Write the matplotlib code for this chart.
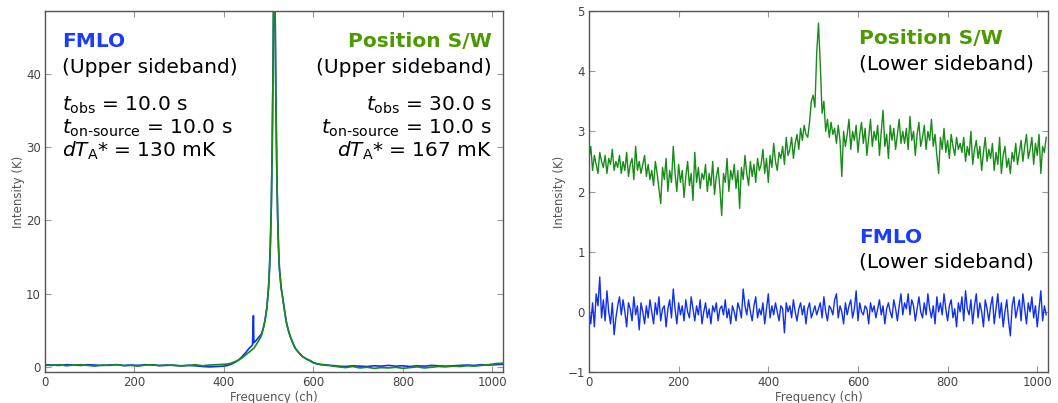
import matplotlib
matplotlib.use("Agg")
import matplotlib.pyplot as plt
import numpy as np

W, H = 1058, 403
BLUE_LINE = "#1030f0"
GREEN_LINE = "#178c17"
BLUE_TXT = "#1a3cff"
GREEN_TXT = "#4c9a00"

# ---- upper sideband (left panel), channel -> intensity (K) ----
UP_CH = [0, 16, 32, 48, 64, 80, 96, 112, 128, 144, 160, 176, 192, 208, 224, 240,
         256, 272, 288, 304, 320, 336, 352, 368, 384,
         400, 408, 416, 424, 432, 440, 448, 456, 464, 466, 467, 472, 480, 484, 488,
         492, 496, 500, 502, 504, 506, 508, 510, 512, 514, 516, 518, 520, 522, 524,
         528, 532, 536, 540, 544, 548, 552, 556, 560, 568, 576, 584, 592, 600, 608,
         616, 624, 632,
         640, 656, 672, 688, 704, 720, 736, 752, 768, 784, 800, 816, 832, 848, 864,
         880, 896, 912, 928, 944, 960, 976, 992, 1008, 1023]
UP_GREEN = [0.25, 0.2, 0.3, 0.15, 0.25, 0.3, 0.2, 0.1, 0.25, 0.2, 0.3, 0.15, 0.2, 0.1, 0.25, 0.3,
            0.15, 0.2, 0.25, 0.1, 0.2, 0.3, 0.15, 0.25, 0.3,
            0.35, 0.4, 0.5, 0.7, 0.9, 1.2, 1.6, 2.0, 2.4, 2.5, 2.55, 3.0, 3.8, 4.3, 5.2,
            6.3, 8.0, 11.0, 13.5, 17.0, 22.0, 30.0, 42.0, 58.0, 52.0, 38.0, 28.0, 21.0, 16.5, 13.5,
            10.8, 9.2, 7.5, 6.0, 5.0, 4.2, 3.6, 3.0, 2.5, 1.9, 1.4, 1.1, 0.9, 0.6, 0.45,
            0.35, 0.3, 0.25,
            0.15, 0.0, -0.1, 0.05, -0.15, -0.05, -0.2, -0.1, -0.15, -0.05, -0.2, -0.1, 0.0, -0.15, -0.05,
            0.05, 0.0, 0.1, 0.05, 0.15, 0.1, 0.2, 0.3, 0.45, 0.5]
UP_BLUE = [0.3, 0.25, 0.2, 0.3, 0.25, 0.2, 0.3, 0.25, 0.2, 0.25, 0.3, 0.2, 0.25, 0.2, 0.3, 0.25,
           0.2, 0.25, 0.2, 0.15, 0.2, 0.15, 0.05, 0.0, 0.05,
           0.1, 0.2, 0.35, 0.6, 0.9, 1.35, 1.9, 2.5, 3.0, 7.0, 3.3, 3.6, 4.2, 4.5, 5.3,
           6.4, 8.1, 11.0, 13.5, 17.0, 22.0, 30.0, 42.0, 57.0, 52.0, 38.0, 28.0, 21.0, 16.5, 13.5,
           10.8, 9.2, 7.5, 6.0, 5.0, 4.2, 3.6, 3.0, 2.5, 1.9, 1.4, 1.1, 0.85, 0.55, 0.4,
           0.3, 0.25, 0.2,
           0.2, 0.1, 0.05, 0.15, 0.1, 0.05, 0.15, 0.1, 0.2, 0.1, 0.15, 0.05, 0.15, 0.1, 0.2,
           0.15, 0.1, 0.15, 0.2, 0.25, 0.2, 0.3, 0.25, 0.3, 0.35]

# ---- lower sideband (right panel), every 4th channel ----
LOW_CH = np.arange(0, 1024, 4)
LOW_GREEN = [
    2.55, 2.75, 2.35, 2.6, 2.45, 2.3, 2.65, 2.5, 2.4, 2.6, 2.3, 2.55, 2.45, 2.7, 2.35, 2.5,
    2.4, 2.6, 2.3, 2.5, 2.35, 2.65, 2.25, 2.45, 2.55, 2.2, 2.75, 2.35, 2.5, 2.3, 2.45, 2.6,
    2.25, 2.45, 2.2, 2.35, 2.1, 2.5, 2.3, 2.05, 1.8, 2.4, 2.2, 2.55, 2.0, 2.35, 2.15, 2.75,
    2.3, 2.0, 2.45, 2.15, 2.35, 1.9, 2.25, 2.5, 2.1, 2.3, 1.85, 2.65, 2.15, 2.4, 2.05, 2.3,
    2.2, 2.45, 2.0, 2.3, 2.1, 2.5, 1.95, 2.25, 2.4, 2.05, 1.6, 2.3, 2.15, 2.55, 2.0, 2.35,
    2.2, 2.45, 2.05, 2.35, 1.72, 2.4, 2.2, 2.6, 2.3, 2.1, 2.5, 2.25, 2.45, 2.15, 2.55, 2.35,
    2.45, 2.7, 2.3, 2.55, 2.15, 2.6, 2.4, 2.8, 2.5, 2.35, 2.65, 2.55, 2.75, 2.45, 2.9, 2.6,
    2.7, 2.9, 2.55, 2.8, 2.95, 2.7, 3.05, 2.85, 3.1, 2.95, 2.9, 3.15, 3.5, 3.6, 3.4, 4.3,
    4.8, 4.1, 3.3, 3.5, 3.0, 3.2, 2.9, 3.15, 2.95, 3.05, 2.8, 3.1, 2.85, 2.25, 3.0, 2.75,
    2.95, 3.2, 2.7, 3.0, 2.85, 3.1, 2.65, 2.95, 3.15, 2.8, 3.05, 2.6, 2.9, 3.2, 2.75, 3.0,
    2.85, 3.1, 2.6, 3.0, 3.35, 2.75, 2.95, 2.55, 3.1, 2.85, 3.05, 2.7, 2.95, 3.2, 2.8, 3.0,
    2.8, 3.05, 2.7, 3.25, 2.85, 3.0, 2.6, 2.95, 3.15, 2.75, 2.9, 3.1, 2.7, 3.0, 2.85, 3.2,
    2.75, 2.95, 2.6, 2.3, 2.9, 2.7, 3.05, 2.65, 2.85, 2.55, 2.95, 2.75, 2.6, 2.9, 2.7, 2.8,
    2.65, 2.9, 2.5, 2.75, 2.6, 3.0, 2.45, 2.7, 2.85, 2.55, 2.75, 2.35, 2.65, 2.9, 2.5, 2.7,
    2.55, 2.8, 2.35, 2.65, 2.45, 2.9, 2.3, 2.6, 2.75, 2.4, 2.55, 2.3, 2.65, 2.5, 2.8, 2.45,
    2.65, 2.85, 2.5, 2.75, 2.95, 2.55, 2.7, 2.9, 2.45, 2.8, 2.6, 2.95, 2.3, 2.75, 2.65, 2.9]
LOW_BLUE = [
    0.05, -0.2, 0.15, -0.25, 0.3, 0.1, 0.58, -0.1, 0.2, -0.15, 0.35, 0.0, -0.2, 0.15, -0.38, -0.1,
    0.1, 0.25, -0.05, 0.2, 0.0, -0.25, 0.15, 0.05, -0.15, 0.25, -0.05, 0.1, -0.3, 0.15, 0.0, -0.2,
    0.1, -0.1, 0.2, 0.0, -0.2, 0.15, -0.05, 0.25, -0.15, 0.05, 0.1, -0.25, 0.05, 0.2, -0.1, 0.38,
    0.05, -0.2, 0.15, -0.05, 0.1, -0.15, 0.2, 0.0, -0.1, 0.25, 0.05, -0.15, 0.1, -0.05, 0.2, -0.2,
    0.0, 0.15, -0.1, 0.05, -0.2, 0.1, 0.0, 0.15, -0.15, 0.05, 0.1, -0.05, 0.2, -0.1, 0.05, -0.2,
    0.1, 0.0, -0.15, 0.15, 0.05, -0.1, 0.38, 0.1, -0.05, 0.2, 0.0, -0.15, 0.1, 0.25, -0.1, 0.05,
    -0.05, 0.15, -0.2, 0.05, 0.3, -0.1, 0.1, -0.05, 0.15, 0.0, -0.15, 0.1, 0.05, -0.35, 0.15, 0.0,
    0.1, -0.1, 0.2, 0.0, -0.15, 0.05, 0.15, -0.05, 0.1, -0.2, 0.05, 0.15, -0.1, 0.0, 0.1, -0.05,
    0.05, 0.15, -0.1, 0.25, 0.0, -0.15, 0.1, 0.05, -0.05, 0.2, 0.3, -0.1, 0.1, 0.0, -0.2, 0.15,
    -0.05, 0.1, 0.2, -0.1, 0.05, 0.35, -0.15, 0.15, 0.0, -0.05, 0.1, 0.05, -0.2, 0.15, 0.0, 0.1,
    -0.1, 0.05, 0.2, -0.05, 0.1, -0.2, 0.05, 0.15, 0.0, -0.1, 0.2, 0.05, -0.15, 0.1, 0.3, -0.05,
    0.15, 0.05, 0.3, -0.05, 0.2, 0.1, -0.15, 0.05, 0.25, 0.0, -0.1, 0.15, -0.05, 0.3, 0.05, -0.1,
    0.1, -0.2, 0.25, 0.0, 0.15, -0.05, 0.3, 0.05, -0.15, 0.1, 0.2, -0.1, 0.05, -0.25, 0.15, 0.0,
    0.25, -0.15, 0.35, 0.05, -0.05, 0.2, -0.2, 0.1, 0.3, -0.1, 0.15, 0.0, -0.25, 0.2, 0.05, -0.15,
    0.1, 0.25, -0.2, 0.05, 0.3, -0.1, 0.15, -0.25, 0.0, 0.2, -0.15, -0.4, 0.1, 0.25, -0.1, 0.05,
    0.2, -0.15, 0.3, 0.05, -0.2, 0.15, 0.0, 0.25, -0.1, 0.1, -0.25, 0.05, 0.35, -0.15, 0.1, -0.05]


def style(ax, ylim, yticks):
    ax.set_xlim(0, 1024)
    ax.set_ylim(*ylim)
    ax.set_xticks([0, 200, 400, 600, 800, 1000])
    ax.set_yticks(yticks)
    ax.tick_params(direction="in", top=True, right=True, length=4, width=0.8,
                   color="#999999", labelsize=8.5, labelcolor="#444444", pad=3)
    for s in ax.spines.values():
        s.set_color("#555555")
        s.set_linewidth(1.0)
    ax.set_xlabel("Frequency (ch)", fontsize=8.5, color="#555555", labelpad=1)
    ax.set_ylabel("Intensity (K)", fontsize=8.5, color="#555555", labelpad=1)


def ftext(x, y, s, **kw):
    # x, y in pixels from the top-left corner, y is the baseline
    kw.setdefault("fontsize", 14.5)
    kw.setdefault("va", "baseline")
    fig.text(x / W, 1 - y / H, s, **kw)


fig = plt.figure(figsize=(W / 100, H / 100), dpi=100)
ax1 = fig.add_axes([45 / W, 1 - 372 / H, 458 / W, 361 / H])
ax2 = fig.add_axes([589 / W, 1 - 372 / H, 459 / W, 361 / H])

ax1.plot(UP_CH, UP_BLUE, color=BLUE_LINE, lw=1.2)
ax1.plot(UP_CH, UP_GREEN, color=GREEN_LINE, lw=1.2)
style(ax1, (-0.7, 48.6), [0, 10, 20, 30, 40])

ax2.plot(LOW_CH, LOW_GREEN, color=GREEN_LINE, lw=1.0)
ax2.plot(LOW_CH, LOW_BLUE, color=BLUE_LINE, lw=1.0)
style(ax2, (-1, 5), [-1, 0, 1, 2, 3, 4, 5])

TON = r"$t_{\text{on-source}}$"
# left panel annotations
ftext(62, 47, "FMLO", color=BLUE_TXT, fontweight="bold")
ftext(62, 73, "(Upper sideband)")
ftext(62, 111, r"$t_{\rm obs}$ = 10.0 s")
ftext(62, 134, TON + " = 10.0 s")
ftext(62, 157, r"$dT_{\rm A}$* = 130 mK")

ftext(492, 47, "Position S/W", color=GREEN_TXT, fontweight="bold", ha="right")
ftext(492, 73, "(Upper sideband)", ha="right")
ftext(492, 111, r"$t_{\rm obs}$ = 30.0 s", ha="right")
ftext(492, 134, TON + " = 10.0 s", ha="right")
ftext(492, 157, r"$dT_{\rm A}$* = 167 mK", ha="right")

# right panel annotations
ftext(859, 44, "Position S/W", color=GREEN_TXT, fontweight="bold")
ftext(859, 69, "(Lower sideband)")
ftext(859, 243, "FMLO", color=BLUE_TXT, fontweight="bold")
ftext(859, 268, "(Lower sideband)")

fig.savefig("out.png", dpi=100)
